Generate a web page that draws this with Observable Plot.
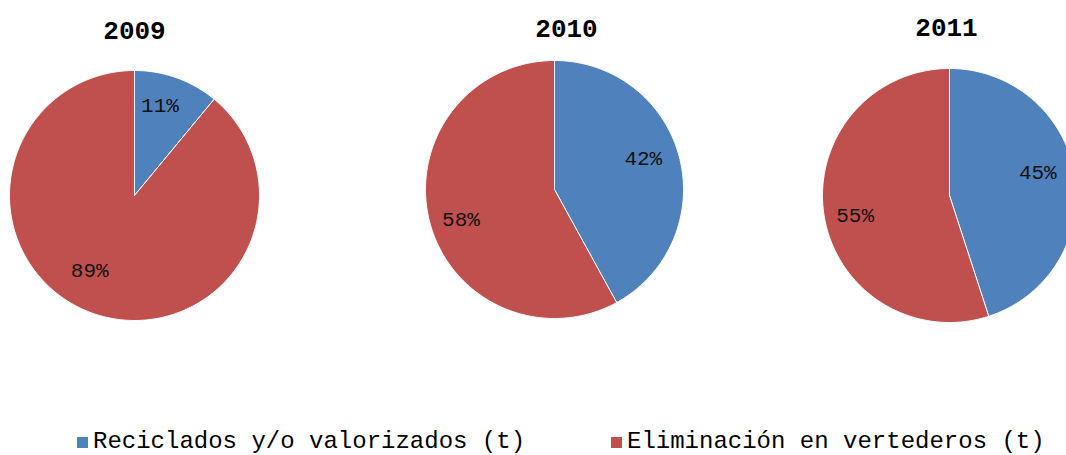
<!DOCTYPE html>
<html>
<head>
<meta charset="utf-8">
<script src="https://cdn.jsdelivr.net/npm/d3@7"></script>
<script src="https://cdn.jsdelivr.net/npm/@observablehq/plot@0.6"></script>
<style>
  html, body { margin: 0; padding: 0; background: #fff; overflow: hidden; }
  #legend { position: relative; height: 27px; font-family: "Liberation Mono", "Courier New", monospace; font-size: 24px; color: #000; white-space: nowrap; }
  #legend span.item { position: absolute; top: 0; line-height: 27px; }
  #legend span.sw { display: inline-block; width: 11px; height: 11px; margin-right: 5px; }
</style>
</head>
<body>
<div id="chart"></div>
<div id="legend"></div>
<script>
// Data
const years = ["2009", "2010", "2011"];
const categories = ["Reciclados y/o valorizados (t)", "Eliminación en vertederos (t)"];
const reciclados = [11, 42, 45];   // %
const eliminacion = [89, 58, 55];  // %
const colors = ["#4F81BD", "#C0504D"];

// Layout (pixel-space centres, radii, label placement tweaks)
const W = 1066, H = 428;
const layout = [
  {cx: 134, cy: 195, r: 125, tx: 134, ty: 30, shift: [-4, 11], rf: [0.75, 0.70]},
  {cx: 554, cy: 189, r: 129, tx: 566, ty: 28, shift: [-5, -3], rf: [0.73, 0.76]},
  {cx: 949, cy: 195, r: 127, tx: 946, ty: 27, shift: [-6, -3], rf: [0.72, 0.76]}
];

// Build slice polygons from values
const slices = [];
const labels = [];
years.forEach((yr, i) => {
  const vals = [reciclados[i], eliminacion[i]];
  const total = d3.sum(vals);
  const {cx, cy, r, shift, rf} = layout[i];
  let a0 = 0;
  vals.forEach((v, j) => {
    const a1 = a0 + v / total * 2 * Math.PI;
    const id = yr + "-" + j;
    slices.push({id, cat: categories[j], x: cx, y: cy});
    const n = Math.max(2, Math.ceil((a1 - a0) / (Math.PI / 180)));
    for (let k = 0; k <= n; k++) {
      const a = a0 + (a1 - a0) * k / n;
      slices.push({id, cat: categories[j], x: cx + r * Math.sin(a), y: cy - r * Math.cos(a)});
    }
    slices.push({id, cat: categories[j], x: cx, y: cy});
    const am = (a0 + a1) / 2 + shift[j] * Math.PI / 180;
    labels.push({x: cx + rf[j] * r * Math.sin(am), y: cy - rf[j] * r * Math.cos(am), text: Math.round(v / total * 100) + "%"});
    a0 = a1;
  });
});
const titles = years.map((yr, i) => ({x: layout[i].tx, y: layout[i].ty, text: yr}));

const chart = Plot.plot({
  width: W,
  height: H,
  margin: 0,
  x: {domain: [0, W], range: [0, W], axis: null},
  y: {domain: [0, H], range: [0, H], axis: null},
  color: {domain: categories, range: colors},
  marks: [
    Plot.line(slices, {x: "x", y: "y", z: "id", fill: "cat", stroke: "white", strokeWidth: 1, curve: "linear"}),
    Plot.text(labels, {x: "x", y: "y", text: "text", fontSize: 21, fontFamily: "Liberation Mono, Courier New, monospace", fill: "#111"}),
    Plot.text(titles, {x: "x", y: "y", text: "text", fontSize: 26, fontWeight: "bold", fontFamily: "Liberation Mono, Courier New, monospace", fill: "#000"})
  ]
});
document.getElementById("chart").appendChild(chart);

const legend = document.getElementById("legend");
const lx = [77, 611];
categories.forEach((c, j) => {
  const s = document.createElement("span");
  s.className = "item";
  s.style.left = lx[j] + "px";
  s.innerHTML = `<span class="sw" style="background:${colors[j]}"></span>${c}`;
  legend.appendChild(s);
});
</script>
</body>
</html>
